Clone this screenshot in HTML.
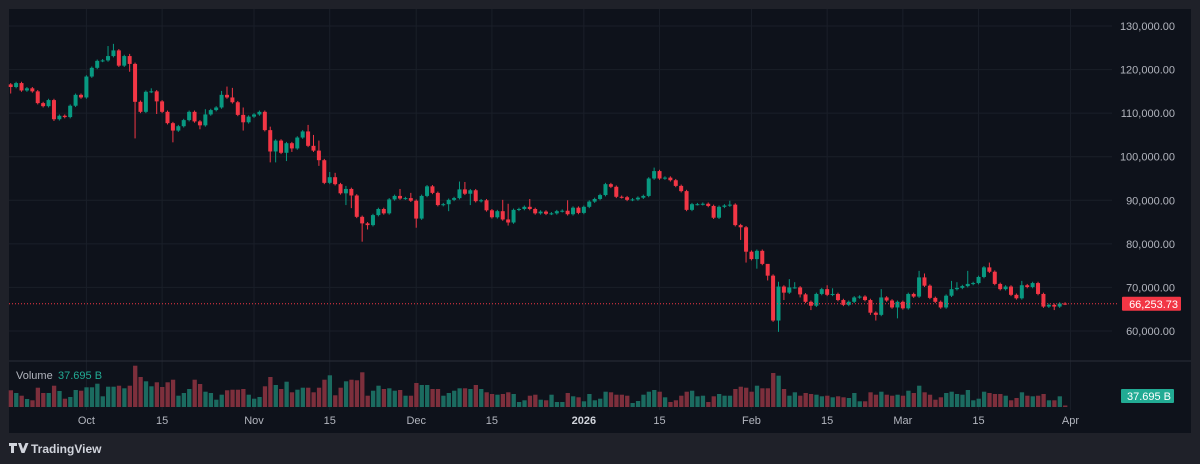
<!DOCTYPE html>
<html><head><meta charset="utf-8"><style>
html,body{margin:0;padding:0;background:#1f2129;width:1200px;height:464px;overflow:hidden;font-family:"Liberation Sans",sans-serif}
#wrap{position:relative;width:1200px;height:464px}
svg{position:absolute;left:0;top:0}
</style></head><body>
<div id="wrap">
<svg id="chart" width="1200" height="464">
  <rect x="9" y="9" width="1182" height="424" fill="#0e121b"/>
  <g id="grid"></g>
  <line x1="9" y1="361" x2="1191" y2="361" stroke="#2a2e39" stroke-width="1"/>
  <g id="vol"></g>
  <g id="candles"></g>
  <g id="axes"></g>
  <text x="16" y="379" font-size="11" fill="#b2b5be">Volume</text>
  <text x="58" y="379" font-size="11" fill="#22ab94">37.695 B</text>
  <g>
    <path d="M9 443h8v3h-3v7h-3v-7h-2z M18 443h3l2 6 2.5-6h3l-4 10h-3z" fill="#d1d4dc"/>
    <text x="31" y="453" font-size="12" font-weight="bold" fill="#d1d4dc">TradingView</text>
  </g>
</svg>
</div>
<script>
const closes=[116.0,116.9,115.2,115.7,115.0,112.3,111.6,113.0,108.6,109.4,109.1,111.7,114.2,113.6,118.4,120.4,122.0,122.1,123.1,124.4,120.9,123.1,121.3,112.6,110.3,114.9,115.0,112.7,110.3,107.7,106.0,107.0,108.4,110.3,108.1,107.2,109.7,110.7,111.3,114.2,113.6,112.5,109.6,107.9,109.2,109.7,110.3,106.1,101.2,103.7,100.9,103.1,101.9,104.4,105.8,102.5,101.4,99.2,94.0,95.3,93.7,91.6,92.6,91.1,86.2,84.7,84.3,86.6,88.0,87.0,90.2,91.0,90.4,90.5,89.9,85.8,91.0,93.2,91.7,88.9,89.1,90.1,90.5,92.5,91.5,92.3,89.8,90.0,87.7,86.1,87.5,85.6,84.9,87.8,88.0,88.5,88.0,87.0,87.4,86.9,87.0,87.5,87.6,86.8,88.3,87.1,88.5,89.7,90.3,91.2,93.7,93.1,90.8,90.7,90.1,90.2,90.6,91.0,95.0,96.7,95.0,95.2,94.6,93.3,92.1,87.8,89.1,89.1,89.2,88.7,86.0,88.5,88.8,89.0,84.3,83.8,78.2,76.5,78.4,75.4,72.7,62.4,70.2,68.8,70.0,70.0,68.4,66.7,65.8,68.5,69.6,68.3,68.5,67.1,66.0,66.7,67.7,67.9,67.1,64.2,63.7,67.7,67.0,65.4,66.7,65.2,68.5,67.9,72.3,70.4,67.6,66.7,65.4,68.1,69.6,69.9,70.3,70.8,71.0,72.4,74.6,73.6,70.8,69.6,70.2,68.3,67.5,70.5,70.1,71.0,68.5,65.6,66.0,65.6,66.3,66.25];
const firstOpen=116.6;
const highIdx=[18,19,22,26,36,39,40,41,43,48,55,56,57,59,60,62,72,74,83,84,91,92,96,103,119,133,140,142,144,145,146,151,152,161,168,169,174,175,177,181,187];
const highVals=[125.4,125.9,123.6,115.7,110.9,115.1,116.1,115.8,111.3,106.9,107.3,105.0,103.7,96.5,96.3,93.3,92.6,91.7,94.3,94.2,90.1,89.2,90.3,90.0,97.5,89.9,74.0,71.3,71.9,71.2,70.3,70.5,69.8,69.6,73.8,73.2,71.5,71.2,73.8,75.7,71.5];
const lowIdx=[0,8,22,23,27,30,35,43,48,49,51,52,57,62,63,65,66,75,81,85,92,135,136,138,140,142,143,146,148,159,160,164,193];
const lowVals=[114.5,108.2,119.5,104.2,109.8,103.3,106.3,106.0,98.7,98.7,99.0,101.1,97.9,88.9,88.2,80.5,83.3,83.7,87.5,88.9,84.2,80.9,75.7,74.3,71.6,59.8,67.1,67.7,64.8,63.7,62.4,62.9,64.8];
const volumes=[16.7,14,11.3,8,6.7,19.3,14,14,21.3,16,8.3,10,17,16.3,19.7,19.7,23.3,10.7,20.3,20.3,21.3,18.7,21.3,41.3,30,25.7,20.7,24.7,20,24.7,27.3,11.3,14,18,27.3,23,15.3,14,7.3,12.3,16.7,17.3,17.3,18,12.3,8.3,10,20.7,30,22,18,25.3,14.7,17.3,19.3,19.3,14.7,19.3,27.3,31.7,11.7,19.3,25.7,27.3,26.7,34.7,11.3,16.3,21.3,18,18.7,16.3,17,11.3,11.3,24,22,22,18,18,11.3,14,16.3,18.7,18.7,18,22,18,14.7,13,12.3,13,14.7,13,5,6.7,11.3,12.3,7.3,6.7,12.3,5,5,14,10.7,9.7,5.7,13,6.7,8.3,15.3,14.7,12.3,12.3,11.3,4,6,12.3,15.3,17,15.3,9.7,5,6.7,11.3,15.3,16.3,10.7,11.3,5,10.7,13,11.3,11.3,18,20.3,19.3,15.3,21.3,18.7,18.7,34,31.3,18,11.3,14.7,11.3,14,13,12.3,10.7,11.3,9.7,10.7,9.7,9,14,5.7,5.7,14.7,12.3,15.3,12.3,11.3,12.3,11.3,16.3,14,21.3,14.7,12.3,7.3,9.7,14,15.3,13,12.3,17,6.7,8.3,15.3,14,13,13,11.3,6.7,9,14.7,11.3,10.7,11.3,13,6.7,6.7,10.7,1.5];
const priceTicks=[130,120,110,100,90,80,70,60];
const timeLabels=["Oct","15","Nov","15","Dec","15","2026","15","Feb","15","Mar","15","Apr"];
const timeIdx=[14,28,45,59,75,89,106,120,137,151,165,179,196];

const NS="http://www.w3.org/2000/svg";
function xS(i){return 10.7+5.407*i;}
function yP(p){return 26+(130-p)*4.357;}
function yV(v){return 407-v;}
function mk(tag,attrs,parent){const e=document.createElementNS(NS,tag);for(const k in attrs)e.setAttribute(k,attrs[k]);parent.appendChild(e);return e;}
const grid=document.getElementById('grid'),axes=document.getElementById('axes'),cg=document.getElementById('candles'),vg=document.getElementById('vol');
priceTicks.forEach(p=>{
  const l=mk('line',{x1:9,x2:1112,y1:yP(p),y2:yP(p),stroke:'#1a1f29'},grid);
  
  
  const t=mk('text',{x:1175,y:yP(p)+4,'font-size':11,fill:'#b2b5be','text-anchor':'end'},axes);
  t.textContent=p.toFixed(0).replace(/(\d+)(\d{0})$/,'$1')+',000.00';
  t.textContent=(p*1000).toLocaleString('en-US')+'.00';
  
  
});
timeLabels.forEach((s,k)=>{
  const x=xS(timeIdx[k]);
  const l=mk('line',{x1:x,x2:x,y1:9,y2:410,stroke:'#1a1f29'},grid);
  
  
  const t=mk('text',{x:x,y:424,'font-size':11,fill:s==='2026'?'#d1d4dc':'#b2b5be','font-weight':s==='2026'?'bold':'normal','text-anchor':'middle'},axes);
  t.textContent=s;
  
  
});
const highs=new Map(),lows=new Map();
highIdx.forEach((i,k)=>highs.set(i,highVals[k]));
lowIdx.forEach((i,k)=>lows.set(i,lowVals[k]));
closes.forEach((c,i)=>{
  const o=i===0?firstOpen:closes[i-1];
  const up=c>=o;
  const col=up?'#089981':'#f23645';
  const h=highs.has(i)?highs.get(i):Math.max(o,c)+0.3;
  const lo=lows.has(i)?lows.get(i):Math.min(o,c)-0.3;
  const x=xS(i);
  const w=mk('line',{x1:x,x2:x,y1:yP(h),y2:yP(lo),stroke:col,'stroke-width':1},cg);
  
  
  const top=yP(Math.max(o,c)),bh=Math.max(1,yP(Math.min(o,c))-top);
  const b=mk('rect',{x:x-2,y:top,width:4,height:bh,fill:col},cg);
  
  
  const v=volumes[i];
  const vb=mk('rect',{x:x-2,y:yV(v),width:4.3,height:v,fill:up?'#1b6b60':'#7d2f3c'},vg);
  
  
});
const last=closes[closes.length-1];
const dl=mk('line',{x1:9,x2:1118,y1:yP(last),y2:yP(last),stroke:'#f23645','stroke-width':1,'stroke-dasharray':'1 2'},axes);


const lb=mk('rect',{x:1122,y:yP(last)-7,width:59,height:14,fill:'#f23645',rx:1},axes);


const lt=mk('text',{x:1178,y:yP(last)+4,'font-size':11,fill:'#ffffff','text-anchor':'end'},axes);
lt.textContent='66,253.73';


const vbx=mk('rect',{x:1121,y:389,width:53,height:14,fill:'#22ab94',rx:1},axes);


const vt=mk('text',{x:1171,y:400,'font-size':11,fill:'#ffffff','text-anchor':'end'},axes);
vt.textContent='37.695 B';


</script>
</body></html>
